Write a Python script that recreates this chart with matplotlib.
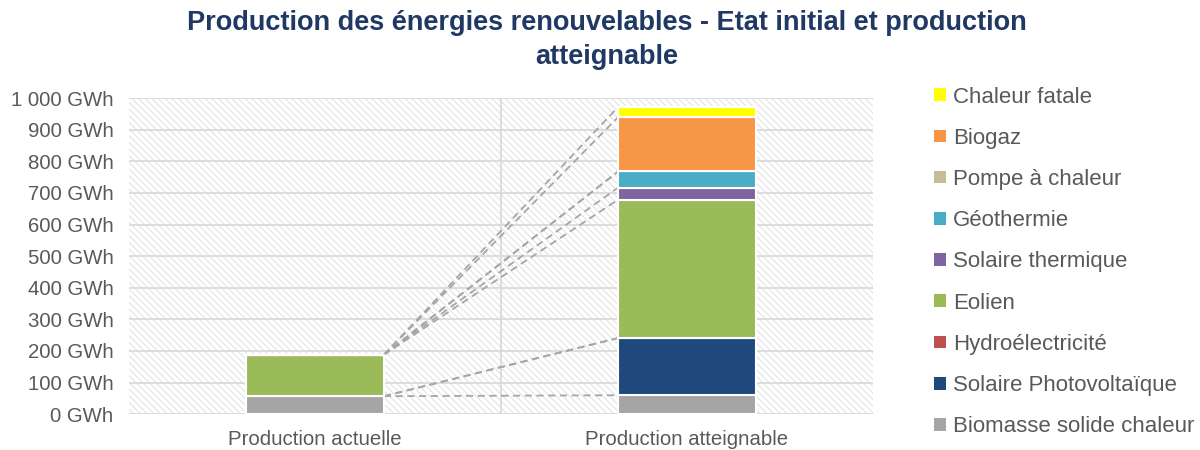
import matplotlib
matplotlib.use("Agg")
import matplotlib.pyplot as plt
from matplotlib.patches import Rectangle, Patch
import numpy as np

plt.rcParams['font.family'] = ['Liberation Sans', 'DejaVu Sans']
plt.rcParams['hatch.linewidth'] = 0.8
plt.rcParams['hatch.color'] = '#E2E2E2'

categories = ["Production actuelle", "Production atteignable"]
series_names = ["Biomasse solide chaleur", "Solaire Photovoltaïque", "Hydroélectricité",
                "Eolien", "Solaire thermique", "Géothermie", "Pompe à chaleur",
                "Biogaz", "Chaleur fatale"]
series_colors = ["#A5A5A5", "#1F497D", "#C0504D", "#9BBB59", "#8064A2",
                 "#4BACC6", "#C4BD97", "#F79646", "#FFFF00"]
actuelle = [57, 0, 0, 131, 0, 0, 0, 0, 0]
atteignable = [60, 181, 0, 438, 38, 51, 0, 172, 32]
yticks = [0, 100, 200, 300, 400, 500, 600, 700, 800, 900, 1000]

fig = plt.figure(figsize=(12, 4.5), dpi=100)
ax = fig.add_axes([0.1075, 0.0795, 0.62, 0.7025])

ax.set_xlim(-0.5, 1.5)
ax.set_ylim(0, 1000)

# hatched background
bg = Rectangle((0, 0), 1, 1, transform=ax.transAxes, facecolor='white',
               edgecolor='#E2E2E2', hatch='\\\\\\\\\\', linewidth=0, zorder=0)
ax.add_patch(bg)

for y in yticks:
    ax.axhline(y, color='#DADADA', linewidth=1.3, zorder=1)
ax.axvline(0.5, color='#DADADA', linewidth=1.3, zorder=1)

w = 0.37
x = np.arange(len(categories))
data = np.array([actuelle, atteignable], dtype=float)
bottoms = np.zeros(len(categories))
for i, name in enumerate(series_names):
    vals = data[:, i]
    ax.bar(x, vals, width=w, bottom=bottoms, color=series_colors[i],
           edgecolor='white', linewidth=1.5, zorder=3)
    tops = bottoms + vals
    ax.plot([x[0] + w / 2, x[1] - w / 2], [tops[0], tops[1]], linestyle=(0, (4, 2.5)),
            color='#A6A6A6', linewidth=1.3, zorder=2)
    bottoms = tops

for s in ax.spines.values():
    s.set_visible(False)

ax.set_yticks(yticks)
ax.set_yticklabels([f"{v:,} GWh".replace(",", " ") for v in yticks])
ax.set_xticks(x)
ax.set_xticklabels(categories)
ax.tick_params(axis='both', length=0, colors='#595959', labelsize=14.7)
ax.tick_params(axis='y', pad=11)
ax.tick_params(axis='x', pad=11)

fig.suptitle("Production des énergies renouvelables - Etat initial et production\natteignable",
             x=0.506, y=0.978, fontsize=19.5, fontweight='bold', color='#1F3864',
             linespacing=1.42)

handles = [Patch(facecolor=series_colors[i], edgecolor='none') for i in range(len(series_names))][::-1]
labels = series_names[::-1]
leg = fig.legend(handles, labels, loc='upper left', bbox_to_anchor=(0.762, 0.852),
                 frameon=False, fontsize=16, labelcolor='#595959',
                 handlelength=0.5, handleheight=0.5, handletextpad=0.35,
                 labelspacing=0.91)

fig.savefig("out.png", dpi=100)
